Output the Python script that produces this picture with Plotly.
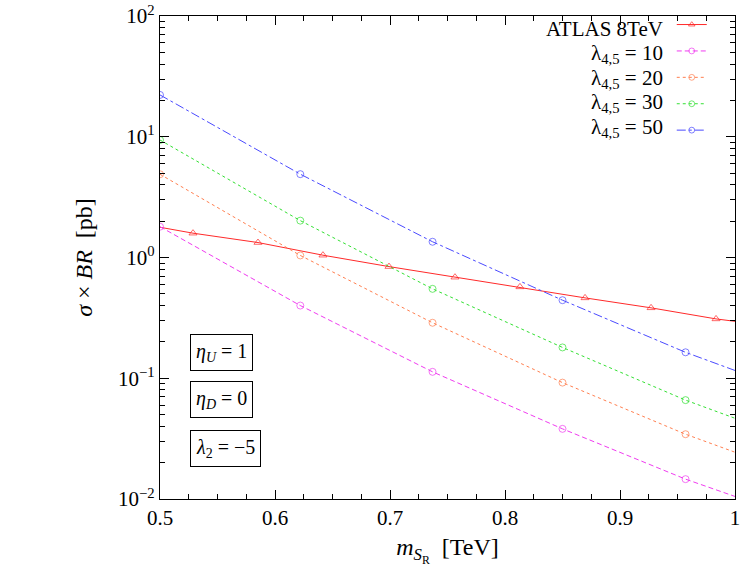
import plotly.graph_objects as go

# ---- data ----
m_lam = [0.5, 0.622, 0.737, 0.850, 0.957, 1.0]
mk_lam = [1, 1, 1, 1, 1, 0]  # marker shown (1) or not (0)
lam10 = [1.80, 0.400, 0.113, 0.0381, 0.0146, 0.0105]
lam20 = [4.89, 1.04, 0.288, 0.092, 0.0344, 0.0244]
lam30 = [9.4, 2.02, 0.550, 0.180, 0.0659, 0.0466]
lam50 = [22.2, 4.90, 1.35, 0.443, 0.164, 0.116]

m_atlas = [0.5, 0.5287, 0.5852, 0.6417, 0.6991, 0.7565, 0.8130, 0.8696, 0.9270, 0.9835, 1.0]
mk_atlas = [0, 1, 1, 1, 1, 1, 1, 1, 1, 1, 0]
atlas = [1.78, 1.59, 1.33, 1.045, 0.841, 0.687, 0.571, 0.463, 0.383, 0.310, 0.296]

legend_labels = ["ATLAS 8TeV", "λ<sub>4,5</sub> = 10", "λ<sub>4,5</sub> = 20",
                 "λ<sub>4,5</sub> = 30", "λ<sub>4,5</sub> = 50"]
box_labels = ["<i>η<sub>U</sub></i> = 1", "<i>η<sub>D</sub></i> = 0", "<i>λ</i><sub>2</sub> = −5"]
y_tickvals = [0.01, 0.1, 1, 10, 100]
y_ticktext = ["10<sup>−2</sup>", "10<sup>−1</sup>", "10<sup>0</sup>", "10<sup>1</sup>", "10<sup>2</sup>"]
x_tickvals = [0.5, 0.6, 0.7, 0.8, 0.9, 1.0]
x_ticktext = ["0.5", "0.6", "0.7", "0.8", "0.9", "1"]

FONT = "Liberation Serif"
MS = 7

series = [
    (m_atlas, atlas, mk_atlas, "#ff2a2a", "solid", "triangle-up-open"),
    (m_lam, lam10, mk_lam, "#f03cf0", "5px,3px", "circle-open"),
    (m_lam, lam20, mk_lam, "#ff7f50", "3px,3px", "circle-open"),
    (m_lam, lam30, mk_lam, "#33e033", "dot", "circle-open"),
    (m_lam, lam50, mk_lam, "#4a4aff", "dashdot", "circle-open"),
]

fig = go.Figure()
for x, y, mk, col, dash, sym in series:
    fig.add_trace(go.Scatter(
        x=x, y=y, mode="lines+markers", name="",
        line=dict(color=col, width=1, dash=dash),
        marker=dict(symbol=sym, size=[MS * v for v in mk], color=col, line=dict(width=1, color=col)),
    ))

legend_y = [0.973, 0.922, 0.870, 0.820, 0.768]
annotations = []
for txt, yy in zip(legend_labels, legend_y):
    annotations.append(dict(text=txt, xref="paper", yref="paper", x=0.878, y=yy,
                            xanchor="right", yanchor="middle", showarrow=False,
                            font=dict(family=FONT, size=21, color="black")))
for txt, yy in zip(box_labels, [0.304, 0.205, 0.1055]):
    annotations.append(dict(text=txt, xref="paper", yref="paper", x=0.052, y=yy,
                            xanchor="left", yanchor="middle", showarrow=False,
                            bordercolor="black", borderwidth=1, borderpad=5,
                            font=dict(family=FONT, size=20, color="black")))

axis_common = dict(showline=True, linecolor="black", linewidth=1.3, mirror="allticks",
                   ticks="inside", ticklen=9, tickcolor="black", showgrid=False, zeroline=False,
                   tickfont=dict(family=FONT, size=21, color="black"))

fig.update_layout(
    width=746, height=567,
    margin=dict(l=160, r=11, t=16, b=68, autoexpand=False),
    paper_bgcolor="white", plot_bgcolor="white",
    showlegend=True,
    legend=dict(x=0.89, y=1.02, xanchor="left", yanchor="top", bgcolor="rgba(0,0,0,0)",
                font=dict(family=FONT, size=18), itemwidth=30, tracegroupgap=0),
    annotations=annotations,
    xaxis=dict(range=[0.5, 1.0], tickvals=x_tickvals, ticktext=x_ticktext,
               minor=dict(ticks="inside", ticklen=5, dtick=0.025, tickcolor="black", showgrid=False),
               title=dict(text="<i>m</i><sub><i>S</i><sub>R</sub></sub>  [TeV]", standoff=12,
                          font=dict(family=FONT, size=24, color="black")),
               **axis_common),
    yaxis=dict(type="log", range=[-2, 2], tickvals=y_tickvals, ticktext=y_ticktext,
               minor=dict(ticks="inside", ticklen=5, dtick="D1", tickcolor="black", showgrid=False),
               title=dict(text="<i>σ</i> × <i>BR</i>  [pb]", standoff=18,
                          font=dict(family=FONT, size=24, color="black")),
               **axis_common),
)

fig.write_html("out.html")
